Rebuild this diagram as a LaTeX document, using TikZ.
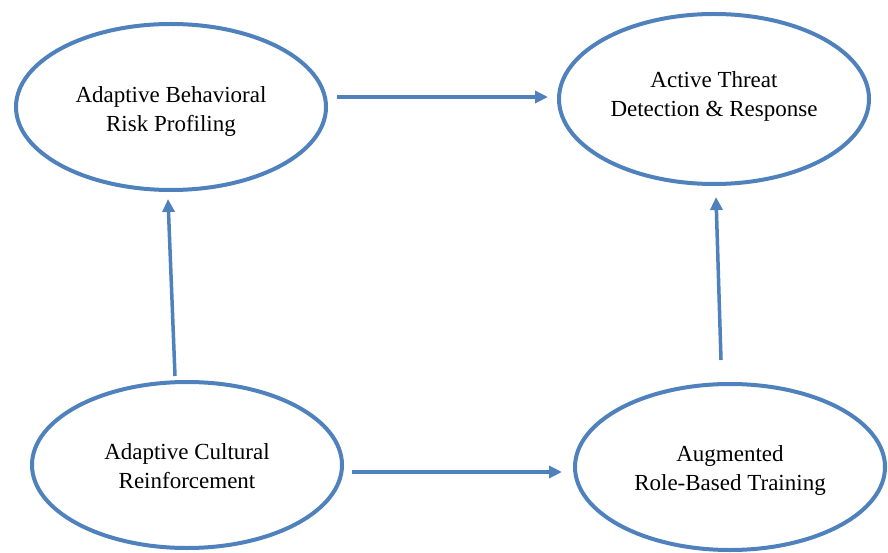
\documentclass[tikz,border=0pt]{standalone}
\usepackage{fontspec}
\setmainfont{Liberation Serif}
\usetikzlibrary{shapes.geometric,arrows.meta}

\definecolor{flowblue}{RGB}{79,129,189}

\begin{document}
\begin{tikzpicture}[
    x=1pt, y=-1pt,
    every node/.style={font=\fontsize{23}{29}\selectfont},
    oval/.style={draw=flowblue, line width=4pt, ellipse, fill=white,
                 minimum width=310pt, minimum height=166pt, inner sep=0pt},
    txt/.style={align=center, inner sep=0pt},
    flow/.style={draw=flowblue, line width=3.5pt, -{Triangle[length=13pt,width=12pt]}},
]

% Canvas
\useasboundingbox[fill=white] (0,0) rectangle (888,553);

% Top row
\node[oval] (riskprof) at (171,107) {};
\node[txt] (riskproftxt) at ([yshift=-5]riskprof.center) {Adaptive Behavioral\\Risk Profiling};
\node[oval, minimum height=170pt] (threat) at (714,99) {};
\node[txt] (threattxt) at ([yshift=3]threat.center) {Active Threat\\Detection \& Response};

% Bottom row
\node[oval] (culture) at (187,465) {};
\node[txt] (culturetxt) at ([yshift=-1]culture.center) {Adaptive Cultural\\Reinforcement};
\node[oval] (training) at (730,467) {};
\node[txt] (trainingtxt) at ([yshift=-3]training.center) {Augmented\\Role-Based Training};

% Arrows
\draw[flow] ([shift={(9,-10)}]riskprof.east) -- ([shift={(-9,-2)}]threat.west);
\draw[flow] ([shift={(-12,-4)}]culture.north) -- ([shift={(-3,7)}]riskprof.south);
\draw[flow] ([shift={(-9,-22)}]training.north) -- ([shift={(2,11)}]threat.south);
\draw[flow] ([shift={(8,7)}]culture.east) -- ([shift={(-11,5)}]training.west);

\end{tikzpicture}
\end{document}
